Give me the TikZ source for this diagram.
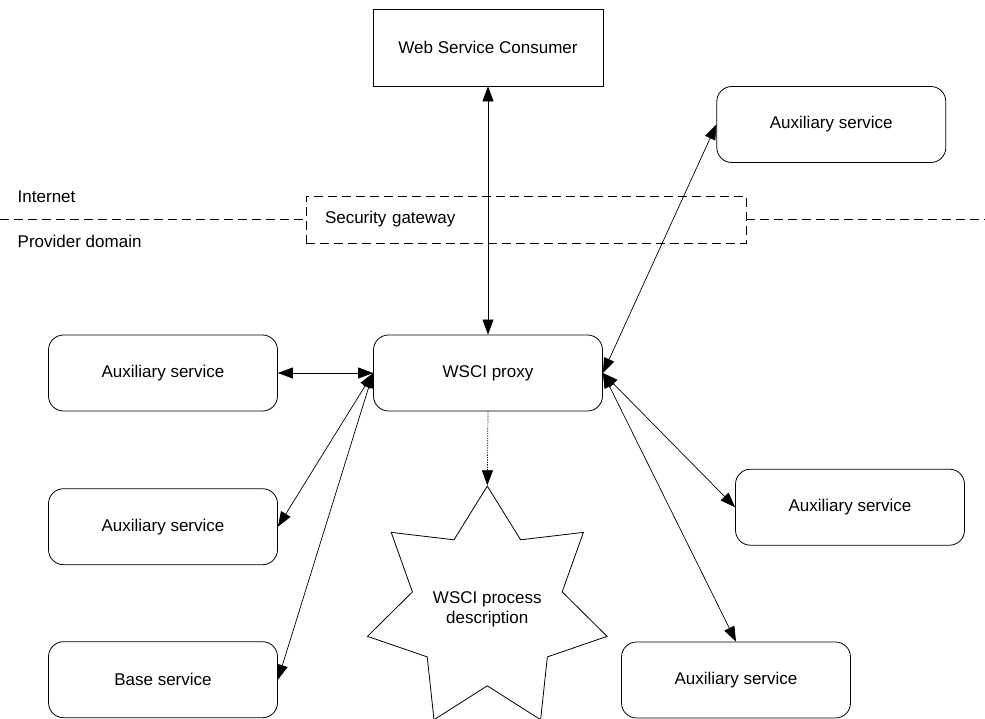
\documentclass[tikz,border=0pt]{standalone}
\usepackage{fontspec}
\setmainfont{Liberation Sans}
\usetikzlibrary{arrows.meta,shapes.geometric}

\tikzset{
  service/.style={draw, rounded corners=15pt, minimum width=229pt, minimum height=76pt, inner sep=0pt},
  both/.style={{Triangle[length=15pt,width=11pt]}-{Triangle[length=15pt,width=11pt]}, line width=0.7pt},
  border/.style={dashed, dash pattern=on 9pt off 5pt, line width=0.7pt}
}

\begin{document}
\begin{tikzpicture}[x=1pt,y=-1pt,font=\fontsize{17}{20}\selectfont,line width=0.8pt]
\useasboundingbox (0,0) rectangle (985,718);

\node[draw, minimum width=230pt, minimum height=77pt] (consumer) at (488,47.5) {Web Service Consumer};
\node[service] (proxy) at (488,373) {WSCI proxy};
\node[service] (auxtr) at (831.3,124.5) {Auxiliary service};
\node[service] (auxla) at (163,373) {Auxiliary service};
\node[service] (auxlb) at (163,526.7) {Auxiliary service};
\node[service] (base) at (163,679.7) {Base service};
\node[service] (auxr) at (850,507.2) {Auxiliary service};
\node[service] (auxbr) at (736,680) {Auxiliary service};
\node[draw, star, star points=7, star point ratio=1.6, minimum size=240pt, inner sep=0pt, align=center] (wsci) at (487.3,609) {WSCI process\\description};

% domain border
\node[border, draw, minimum width=440pt, minimum height=47pt, text width=402pt, inner xsep=19pt, align=left] (gateway) at (526,219.5) {Security gateway};
\coordinate (lend) at (0,219.5);
\coordinate (rend) at (985,219.5);
\draw[border] (lend) -- (gateway.west);
\draw[border] (gateway.east) -- (rend);
\node[anchor=west] (inet) at (14,197) {Internet};
\node[anchor=west] (prov) at (14,241) {Provider domain};

\draw[both] (consumer.south -| proxy.north) -- (proxy.north);
\draw[both] (auxla.east) -- (proxy.west);
\draw[both] (auxlb.east) -- (proxy.west);
\draw[both] (base.east) -- (proxy.west);
\draw[both] (auxtr.west) -- (proxy.east);
\draw[both] (auxr.west) -- (proxy.east);
\draw[both] (auxbr.north) -- (proxy.east);
\draw[dash pattern=on 1.2pt off 1.2pt, line width=0.7pt, -{Triangle[length=15pt,width=11pt]}] (proxy.south) -- (wsci.north);
\end{tikzpicture}
\end{document}
